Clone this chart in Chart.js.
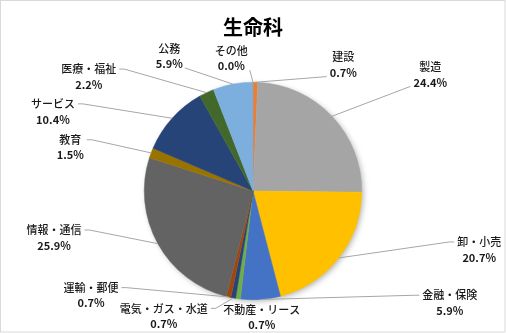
<!DOCTYPE html>
<html>
<head>
<meta charset="utf-8">
<script src="https://cdn.jsdelivr.net/npm/chart.js@4"></script>
<style>
  html, body { margin: 0; padding: 0; background: #fff; }
  canvas { display: block; }
</style>
</head>
<body>
<canvas id="seimeika" width="506" height="333"></canvas>
<script>
// 業種別の割合 (%)
const categories = ['建設', '製造', '卸・小売', '金融・保険', '不動産・リース', '電気・ガス・水道',
  '運輸・郵便', '情報・通信', '教育', 'サービス', '医療・福祉', '公務', 'その他'];
const shares = [0.7, 24.4, 20.7, 5.9, 0.7, 0.7, 0.7, 25.9, 1.5, 10.4, 2.2, 5.9, 0.0];
const percentLabels = shares.map(v => v.toFixed(1) + '%');

const sliceColors = ['#ED7D31', '#A5A5A5', '#FFC000', '#4472C4', '#70AD47', '#264478',
  '#9E480E', '#636363', '#997300', '#264478', '#43682B', '#7CAFDD', '#F1975A'];

// ラベル位置 (円の中心からの距離, 半径単位) と引き出し線の付け方
const labelLayout = [
  { u: [0.83, -1.16], attach: 'corner' },
  { u: [1.63, -1.07], attach: 'corner' },
  { u: [2.08, 0.54], attach: 'side' },
  { u: [1.81, 1.03], attach: 'side' },
  { u: [0.08, 1.16], attach: 'none' },
  { u: [-0.82, 1.15], attach: 'side' },
  { u: [-1.49, 0.96], attach: 'side' },
  { u: [-1.83, 0.43], attach: 'side' },
  { u: [-1.68, -0.40], attach: 'side' },
  { u: [-1.84, -0.73], attach: 'side' },
  { u: [-1.51, -1.05], attach: 'side' },
  { u: [-0.77, -1.24], attach: 'corner' },
  { u: [-0.20, -1.22], attach: 'corner' },
];

const FONT = '"Noto Sans CJK JP", "Noto Sans", sans-serif';

const frame = {
  id: 'frame',
  afterDraw(chart) {
    const ctx = chart.ctx;
    ctx.save();
    ctx.strokeStyle = '#D9D9D9';
    ctx.lineWidth = 1;
    ctx.strokeRect(0.5, 0.5, chart.width - 1.5, chart.height - 1.5);
    ctx.restore();
  }
};

const pieShadow = {
  id: 'pieShadow',
  beforeDatasetsDraw(chart) {
    const arc = chart.getDatasetMeta(0).data[0];
    if (!arc) return;
    const ctx = chart.ctx;
    ctx.save();
    ctx.shadowColor = 'rgba(0,0,0,0.35)';
    ctx.shadowBlur = 6;
    ctx.shadowOffsetX = 2;
    ctx.shadowOffsetY = 2;
    ctx.fillStyle = '#fff';
    ctx.beginPath();
    ctx.arc(arc.x, arc.y, arc.outerRadius - 1, 0, Math.PI * 2);
    ctx.fill();
    ctx.restore();
  }
};

const outsideLabels = {
  id: 'outsideLabels',
  afterDatasetsDraw(chart) {
    const ctx = chart.ctx;
    const arcs = chart.getDatasetMeta(0).data;
    const lineGap = 15.5;
    ctx.save();
    arcs.forEach((arc, i) => {
      const lay = labelLayout[i];
      const r = arc.outerRadius;
      const mid = (arc.startAngle + arc.endAngle) / 2;
      const sx = arc.x + r * Math.cos(mid);
      const sy = arc.y + r * Math.sin(mid);
      const cx = arc.x + r * lay.u[0];
      const cy = arc.y + r * lay.u[1];
      ctx.font = '500 11px ' + FONT;
      const w1 = ctx.measureText(categories[i]).width;
      ctx.font = 'bold 11px ' + FONT;
      const w2 = ctx.measureText(percentLabels[i]).width;
      const w = Math.max(w1, w2);
      const left = cx - w / 2, right = cx + w / 2;
      const bottom = cy + lineGap / 2 + 4;
      const onRight = cx > arc.x;

      ctx.strokeStyle = '#A6A6A6';
      ctx.lineWidth = 1;
      if (lay.attach === 'side') {
        const ax = onRight ? left - 3 : right + 3;
        const ay = cy - lineGap / 2;
        const tail = onRight ? ax - 5 : ax + 5;
        ctx.beginPath();
        ctx.moveTo(sx, sy);
        ctx.lineTo(tail, ay);
        ctx.lineTo(ax, ay);
        ctx.stroke();
      } else if (lay.attach === 'corner') {
        const ax = onRight ? left - 3 : right + 2;
        ctx.beginPath();
        ctx.moveTo(sx, sy);
        ctx.lineTo(ax, bottom);
        ctx.stroke();
      }

      ctx.fillStyle = '#1A1A1A';
      ctx.textAlign = 'center';
      ctx.textBaseline = 'middle';
      ctx.font = '500 11px ' + FONT;
      ctx.fillText(categories[i], cx, cy - lineGap / 2);
      ctx.font = 'bold 11px ' + FONT;
      ctx.fillText(percentLabels[i], cx, cy + lineGap / 2);
    });
    ctx.restore();
  }
};

const ctx = document.getElementById('seimeika');
const chart = new Chart(ctx, {
  type: 'pie',
  data: {
    labels: categories,
    datasets: [{
      data: shares,
      backgroundColor: sliceColors,
      borderColor: sliceColors,
      borderWidth: 0.5,
    }]
  },
  options: {
    responsive: false,
    animation: false,
    events: [],
    layout: {
      padding: { top: 0, bottom: 33, left: 0, right: 0 },
    },
    plugins: {
      legend: { display: false },
      tooltip: { enabled: false },
      title: {
        display: true,
        text: '生命科',
        color: '#000',
        font: { family: FONT, size: 20, weight: 'bold' },
        padding: { top: 15, bottom: 43 },
      },
    },
  },
  plugins: [pieShadow, outsideLabels, frame],
});
</script>
</body>
</html>
